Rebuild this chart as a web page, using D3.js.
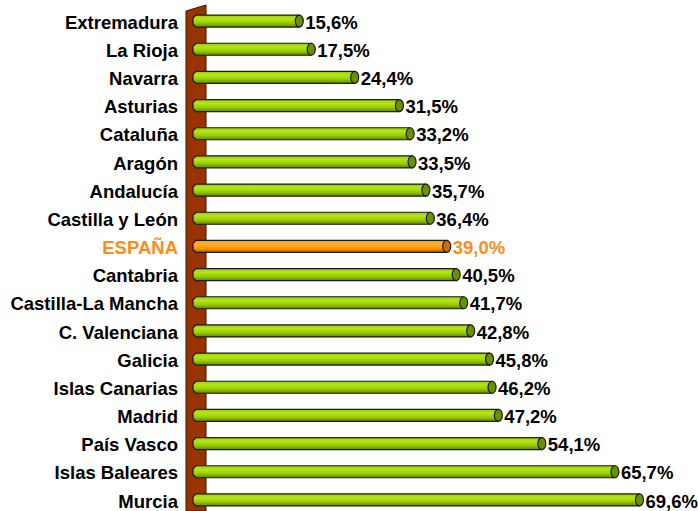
<!DOCTYPE html>
<html>
<head>
<meta charset="utf-8">
<script src="https://cdn.jsdelivr.net/npm/d3@7"></script>
<style>
  body { margin: 0; background: #fff; }
  svg { display: block; font-family: Arial, "Liberation Sans", sans-serif; }
</style>
</head>
<body>
<div id="chart"></div>
<script>
const regions = ['Extremadura', 'La Rioja', 'Navarra', 'Asturias', 'Cataluña', 'Aragón',
  'Andalucía', 'Castilla y León', 'ESPAÑA', 'Cantabria', 'Castilla-La Mancha',
  'C. Valenciana', 'Galicia', 'Islas Canarias', 'Madrid', 'País Vasco',
  'Islas Baleares', 'Murcia'];
const values = [15.6, 17.5, 24.4, 31.5, 33.2, 33.5, 35.7, 36.4, 39.0, 40.5, 41.7,
  42.8, 45.8, 46.2, 47.2, 54.1, 65.7, 69.6];
const highlight = 'ESPAÑA';

const width = 698, height = 511;
const fmt = v => v.toFixed(1).replace('.', ',') + '%';

const svg = d3.select('#chart').append('svg')
  .attr('width', width).attr('height', height);

const x = d3.scaleLinear().domain([0, 70]).range([201, 642]);
const y = d3.scaleBand().domain(regions).range([7, 514]);

// gradients for the cylinders
const defs = svg.append('defs');
function grad(id, light, mid, dark) {
  const g = defs.append('linearGradient').attr('id', id)
    .attr('x1', 0).attr('y1', 0).attr('x2', 0).attr('y2', 1);
  g.append('stop').attr('offset', '0%').attr('stop-color', mid);
  g.append('stop').attr('offset', '30%').attr('stop-color', light);
  g.append('stop').attr('offset', '65%').attr('stop-color', mid);
  g.append('stop').attr('offset', '100%').attr('stop-color', dark);
}
grad('gGreen', '#b5e61d', '#99cc00', '#5f8500');
grad('gOrange', '#ffb030', '#ff9900', '#b86000');

// brown wall
const wx0 = 186, wx1 = 206;
svg.append('path')
  .attr('d', `M${wx0},11 L${wx1},5 L${wx1},${height} L${wx0},${height} Z`)
  .attr('fill', '#993300')
  .attr('stroke', '#3a1400')
  .attr('stroke-width', 1);

const barH = 12;
const x0 = x(0) - 8;

const rows = svg.selectAll('g.row').data(regions).join('g')
  .attr('class', 'row')
  .attr('transform', d => `translate(0,${y(d) + y.bandwidth() / 2})`);

// bar body
rows.append('path')
  .attr('d', (d, i) => {
    const xe = x(values[i]);
    const h = barH / 2;
    return `M${x0 + 3},${-h} L${xe},${-h} L${xe},${h} L${x0 + 3},${h} L${x0},${h - 3} L${x0},${-h + 3} Z`;
  })
  .attr('fill', d => d === highlight ? 'url(#gOrange)' : 'url(#gGreen)')
  .attr('stroke', '#1a1a1a')
  .attr('stroke-width', 1.2);

// end cap
rows.append('ellipse')
  .attr('cx', (d, i) => x(values[i]))
  .attr('cy', 0)
  .attr('rx', 4)
  .attr('ry', barH / 2)
  .attr('fill', d => d === highlight ? '#cc7000' : '#6b9100')
  .attr('stroke', '#1a1a1a')
  .attr('stroke-width', 1.2);

// value labels
rows.append('text')
  .attr('x', (d, i) => x(values[i]) + 6)
  .attr('y', 1)
  .attr('dy', '0.36em')
  .attr('font-size', 18.5)
  .attr('font-weight', 'bold')
  .attr('fill', d => d === highlight ? '#ff8c1a' : '#000')
  .text((d, i) => fmt(values[i]));

// category labels
rows.append('text')
  .attr('x', 178)
  .attr('y', 1)
  .attr('dy', '0.36em')
  .attr('text-anchor', 'end')
  .attr('font-size', 18.5)
  .attr('font-weight', 'bold')
  .attr('fill', d => d === highlight ? '#ff8c1a' : '#000')
  .text(d => d);
</script>
</body>
</html>
